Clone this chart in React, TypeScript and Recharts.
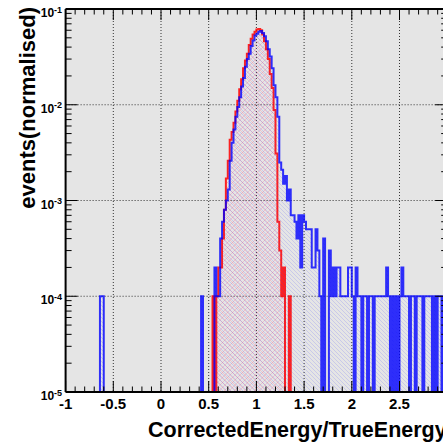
import React from 'react';
import { ComposedChart, Area, XAxis, YAxis, CartesianGrid } from 'recharts';

// ---- data -------------------------------------------------------------
const X_MIN = -1;
const X_MAX = 3;
const BIN_WIDTH = 0.02; // 200 bins
const Y_MIN = 1e-5;
const Y_MAX = 1e-1;

const X_LABELS = [-1, -0.5, 0, 0.5, 1, 1.5, 2, 2.5];
const X_GRID = [-0.5, 0, 0.5, 1, 1.5, 2, 2.5];
const Y_LABELS = [1e-5, 1e-4, 1e-3, 1e-2, 1e-1];
const Y_EXPONENTS = ['-5', '-4', '-3', '-2', '-1'];
const Y_GRID = [1e-4, 1e-3, 1e-2];

const X_TITLE = 'CorrectedEnergy/TrueEnergy';
const Y_TITLE = 'events(normalised)';

// red histogram, bins of 0.02 starting at -1
const RED_VALUES = [
  0, 0, 0, 0, 0, 0, 0, 0, 0, 0,
  0, 0, 0, 0, 0, 0, 0, 0, 0, 0,
  0, 0, 0, 0, 0, 0, 0, 0, 0, 0,
  0, 0, 0, 0, 0, 0, 0, 0, 0, 0,
  0, 0, 0, 0, 0, 0, 0, 0, 0, 0,
  0, 0, 0, 0, 0, 0, 0, 0, 0, 0,
  0, 0, 0, 0, 0, 0, 0, 0, 0, 0,
  0, 0, 0, 0, 0, 0, 0, 1e-4, 0, 1e-4,
  2e-4, 2e-4, 4e-4, 8e-4, 1.7e-3, 2.6e-3, 4.3e-3, 5.2e-3, 6.5e-3, 8.5e-3,
  0.011, 0.0145, 0.0185, 0.024, 0.029, 0.034, 0.042, 0.049, 0.054, 0.058,
  0.061, 0.062, 0.06, 0.054, 0.046, 0.038, 0.03, 0.021, 0.015, 0.0088,
  3.1e-3, 6e-4, 3e-4, 1e-4, 2e-4, 0, 0, 1e-4, 0, 0,
  0, 0, 0, 0, 0, 0, 0, 0, 0, 0,
  0, 0, 0, 0, 0, 0, 0, 0, 0, 0,
  0, 0, 0, 0, 0, 0, 0, 0, 0, 0,
  0, 0, 0, 0, 0, 0, 0, 0, 0, 0,
  0, 0, 0, 0, 0, 0, 0, 0, 0, 0,
  0, 0, 0, 0, 0, 0, 0, 0, 0, 0,
  0, 0, 0, 0, 0, 0, 0, 0, 0, 0,
  0, 0, 0, 0, 0, 0, 0, 0, 0, 0,
];

// blue histogram, bins of 0.02 starting at -1
const BLUE_VALUES = [
  0, 0, 0, 0, 0, 0, 0, 0, 0, 0,
  0, 0, 0, 0, 0, 0, 0, 0, 1e-4, 1e-4,
  0, 0, 0, 0, 0, 0, 0, 0, 0, 0,
  0, 0, 0, 0, 0, 0, 0, 0, 0, 0,
  0, 0, 0, 0, 0, 0, 0, 0, 0, 0,
  0, 0, 0, 0, 0, 0, 0, 0, 0, 0,
  0, 0, 0, 0, 0, 0, 0, 0, 0, 0,
  0, 1e-4, 0, 0, 0, 0, 0, 0, 2e-4, 1e-4,
  1e-4, 4e-4, 6e-4, 8e-4, 1.0e-3, 1.3e-3, 2.6e-3, 4.0e-3, 5.5e-3, 7.5e-3,
  0.0095, 0.012, 0.0155, 0.019, 0.025, 0.03, 0.034, 0.041, 0.047, 0.053,
  0.055, 0.058, 0.059, 0.056, 0.052, 0.046, 0.038, 0.032, 0.024, 0.016,
  0.012, 0.0075, 2.5e-3, 2.1e-3, 1.5e-3, 1.8e-3, 1.0e-3, 1.3e-3, 7e-4, 7e-4,
  6e-4, 4e-4, 7e-4, 2e-4, 7e-4, 6e-4, 5e-4, 5e-4, 5e-4, 2e-4,
  2e-4, 5e-4, 3e-4, 1e-4, 0, 4e-4, 0, 0, 3e-4, 1e-4,
  2e-4, 1e-4, 2e-4, 2e-4, 1e-4, 1e-4, 1e-4, 1e-4, 2e-4, 2e-4,
  1e-4, 0, 2e-4, 1e-4, 1e-4, 0, 1e-4, 1e-4, 0, 1e-4,
  1e-4, 0, 1e-4, 1e-4, 1e-4, 1e-4, 1e-4, 1e-4, 2e-4, 1e-4,
  0, 1e-4, 0, 1e-4, 0, 1e-4, 2e-4, 1e-4, 1e-4, 1e-4,
  0, 1e-4, 1e-4, 0, 1e-4, 1e-4, 1e-4, 0, 1e-4, 1e-4,
  1e-4, 1e-4, 0, 1e-4, 0, 1e-4, 1e-4, 0, 1e-4, 1e-4,
];

// ---- layout -----------------------------------------------------------
const W = 460;
const H = 443;
const AXIS_SIZE = 1;
// plot area: x from 65.6 to 447.2, y from 9 to 392
const MARGIN = { top: 8, right: 11.8, bottom: 50, left: 64.6 };
const PL = MARGIN.left + AXIS_SIZE;
const PR = W - MARGIN.right - AXIS_SIZE;
const PT = MARGIN.top + AXIS_SIZE;
const PB = H - MARGIN.bottom - AXIS_SIZE;
const FONT = '"Liberation Sans", Arial, Helvetica, sans-serif';

const NBINS = Math.round((X_MAX - X_MIN) / BIN_WIDTH);
const chartData = Array.from({ length: NBINS + 1 }, (_, i) => {
  const k = Math.min(i, NBINS - 1);
  return {
    x: Math.round((X_MIN + i * BIN_WIDTH) * 100) / 100,
    red: Math.max(RED_VALUES[k], Y_MIN),
    blue: Math.max(BLUE_VALUES[k], Y_MIN),
  };
});

const X_TICKS: number[] = [];
for (let i = 0; i <= 40; i++) X_TICKS.push(Math.round((X_MIN + i * 0.1) * 10) / 10);
const Y_TICKS: number[] = [];
for (let d = -5; d <= -2; d++) for (let k = 1; k <= 9; k++) Y_TICKS.push(k * Math.pow(10, d));
Y_TICKS.push(Y_MAX);

const isMajorX = (v: number) => Math.abs(v * 2 - Math.round(v * 2)) < 1e-6;
const isMajorY = (v: number) => Math.abs(Math.log10(v) - Math.round(Math.log10(v))) < 1e-6;

const BottomTick = (p: any) => {
  const v = p.payload.value;
  const x = p.x;
  const major = isMajorX(v);
  const showLabel = major && X_LABELS.some((l) => Math.abs(l - v) < 1e-6);
  return (
    <g>
      <line x1={x} x2={x} y1={PB} y2={PB - (major ? 11 : 5.5)} stroke="#000" strokeWidth={1} />
      {showLabel && (
        <text x={x} y={PB + 17} textAnchor="middle" fontSize={15} fontWeight="bold" fontFamily={FONT} fill="#000">
          {String(v)}
        </text>
      )}
    </g>
  );
};

const TopTick = (p: any) => {
  const v = p.payload.value;
  const x = p.x;
  const major = isMajorX(v);
  return <line x1={x} x2={x} y1={PT} y2={PT + (major ? 11 : 5.5)} stroke="#000" strokeWidth={1} />;
};

const LeftTick = (p: any) => {
  const v = p.payload.value;
  const y = p.y;
  const major = isMajorY(v);
  const idx = Y_LABELS.findIndex((l) => Math.abs(Math.log10(l) - Math.log10(v)) < 1e-6);
  return (
    <g>
      <line x1={PL} x2={PL + (major ? 12 : 6)} y1={y} y2={y} stroke="#000" strokeWidth={1} />
      {idx >= 0 && (
        <text x={PL - 3.5} y={y + 8} textAnchor="end" fontSize={12} fontWeight="bold" fontFamily={FONT} fill="#000">
          <tspan>10</tspan>
          <tspan dy={-4.5} fontSize={9}>{Y_EXPONENTS[idx]}</tspan>
        </text>
      )}
    </g>
  );
};

const RightTick = (p: any) => {
  const v = p.payload.value;
  const y = p.y;
  const major = isMajorY(v);
  return <line x1={PR} x2={PR - (major ? 12 : 6)} y1={y} y2={y} stroke="#000" strokeWidth={1} />;
};

const YTitle = () => (
  <text
    x={35}
    y={7}
    transform="rotate(-90, 35, 7)"
    textAnchor="end"
    fontSize={22}
    fontWeight="bold"
    fontFamily={FONT}
    fill="#000"
  >
    {Y_TITLE}
  </text>
);

const XTitle = () => (
  <text x={148} y={437} fontSize={21.5} fontWeight="bold" fontFamily={FONT} fill="#000">
    {X_TITLE}
  </text>
);

export default function App() {
  return (
    <div style={{ position: 'absolute', left: 0, top: 0, width: 443, height: 443, overflow: 'hidden', background: '#fff' }}>
      <svg width={0} height={0} style={{ position: 'absolute', left: 0, top: 0 }}>
        <defs>
          <pattern id="hatchRed" patternUnits="userSpaceOnUse" width={5} height={5}>
            <path d="M0,0 L5,5 M5,0 L0,5" stroke="#ff2050" strokeWidth={0.8} strokeOpacity={0.22} fill="none" />
          </pattern>
          <pattern id="hatchBlue" patternUnits="userSpaceOnUse" width={4} height={4}>
            <path d="M-1,-1 L5,5 M-1,3 L1,5 M3,-1 L5,1" stroke="#3030ff" strokeWidth={0.8} strokeOpacity={0.2} fill="none" />
          </pattern>
        </defs>
      </svg>
      <ComposedChart width={W} height={H} margin={MARGIN} data={chartData}>
        <CartesianGrid
          fill="#e5e5e5"
          stroke="#333"
          strokeDasharray="1 2"
          verticalValues={X_GRID}
          horizontalValues={Y_GRID}
        />
        <Area
          dataKey="red"
          type="stepAfter"
          stroke="#ff0000"
          strokeWidth={2}
          strokeOpacity={0.85}
          fill="url(#hatchRed)"
          fillOpacity={1}
          baseValue={Y_MIN}
          dot={false}
          activeDot={false}
          isAnimationActive={false}
        />
        <Area
          dataKey="blue"
          type="stepAfter"
          stroke="#0000ff"
          strokeWidth={2}
          strokeOpacity={0.8}
          fill="url(#hatchBlue)"
          fillOpacity={1}
          baseValue={Y_MIN}
          dot={false}
          activeDot={false}
          isAnimationActive={false}
        />
        <XAxis
          dataKey="x"
          type="number"
          domain={[X_MIN, X_MAX]}
          allowDataOverflow
          ticks={X_TICKS}
          interval={0}
          height={AXIS_SIZE}
          tickLine={false}
          axisLine={{ stroke: '#000', strokeWidth: 2 }}
          tick={BottomTick}
          label={XTitle}
        />
        <XAxis
          xAxisId="top"
          orientation="top"
          dataKey="x"
          type="number"
          domain={[X_MIN, X_MAX]}
          allowDataOverflow
          ticks={X_TICKS}
          interval={0}
          height={AXIS_SIZE}
          tickLine={false}
          axisLine={{ stroke: '#000', strokeWidth: 2 }}
          tick={TopTick}
        />
        <YAxis
          type="number"
          scale="log"
          domain={[Y_MIN, Y_MAX]}
          allowDataOverflow
          ticks={Y_TICKS}
          interval={0}
          width={AXIS_SIZE}
          tickLine={false}
          axisLine={{ stroke: '#000', strokeWidth: 2 }}
          tick={LeftTick}
          label={YTitle}
        />
        <YAxis
          yAxisId="right"
          orientation="right"
          type="number"
          scale="log"
          domain={[Y_MIN, Y_MAX]}
          allowDataOverflow
          ticks={Y_TICKS}
          interval={0}
          width={AXIS_SIZE}
          tickLine={false}
          axisLine={{ stroke: '#000', strokeWidth: 2 }}
          tick={RightTick}
        />
      </ComposedChart>
    </div>
  );
}
